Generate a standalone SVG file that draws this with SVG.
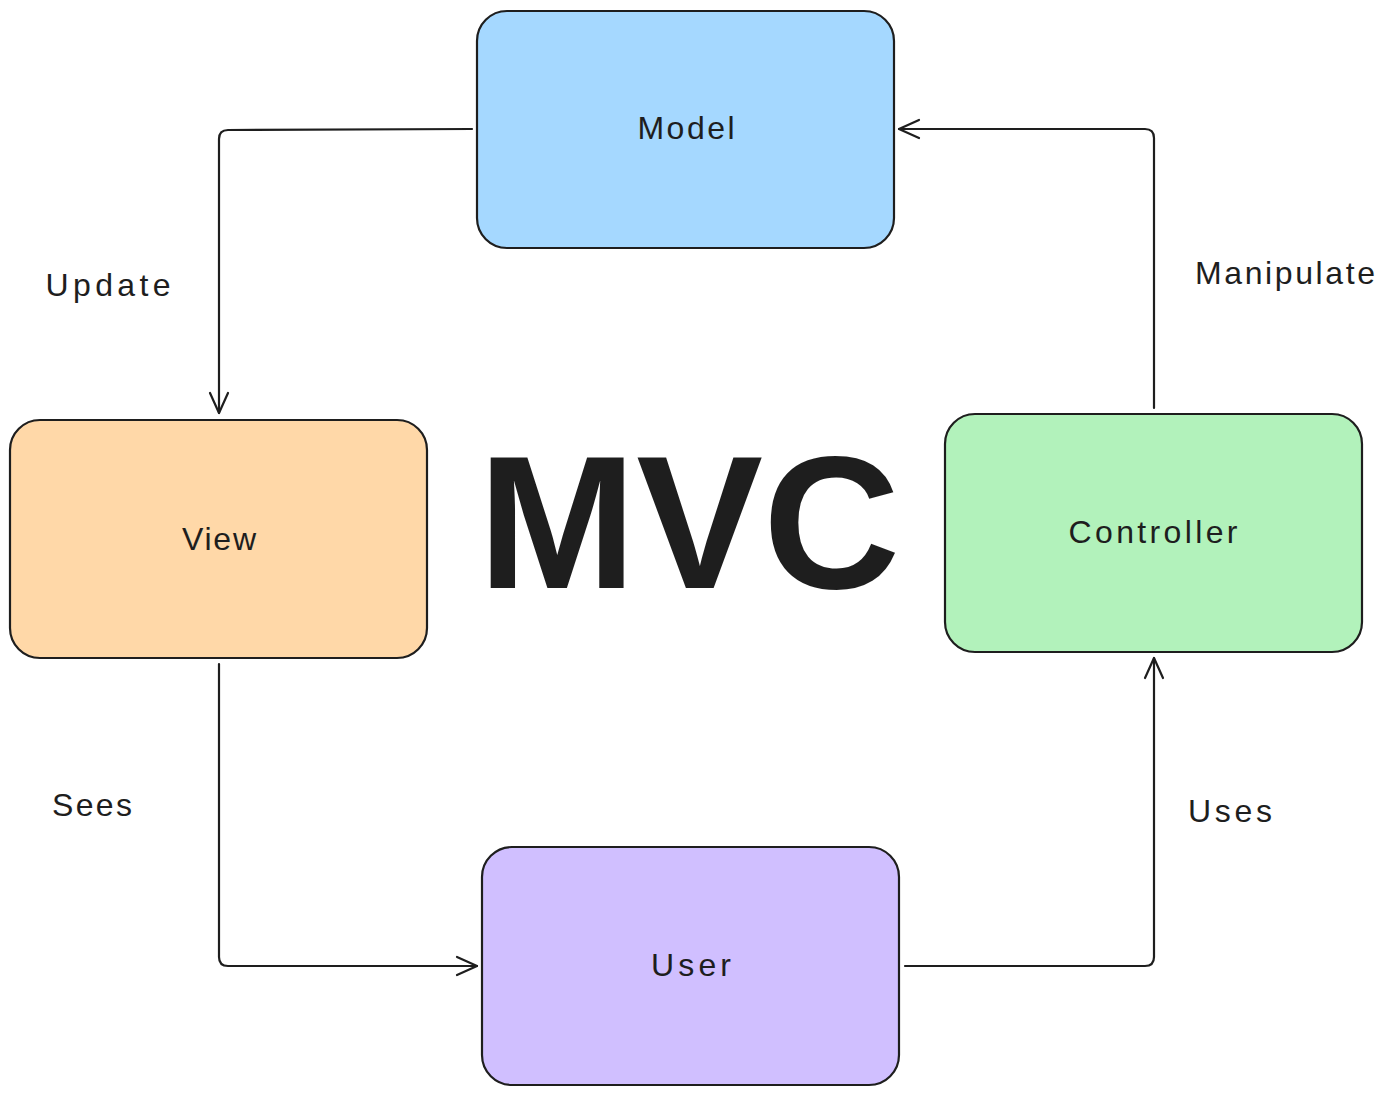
<svg xmlns="http://www.w3.org/2000/svg" width="1386" height="1095" viewBox="0 0 1386 1095">
<defs>
<style>
.box{stroke:#1e1e1e;stroke-width:2.2;}
.lbl{font-family:"Liberation Sans",Arial,sans-serif;font-size:32px;fill:#1e1e1e;text-anchor:middle;dominant-baseline:central;}
.edge{fill:none;stroke:#1e1e1e;stroke-width:2.2;stroke-linecap:round;stroke-linejoin:round;}
.title{font-family:"Liberation Sans",Arial,sans-serif;font-size:190px;font-weight:bold;fill:#1e1e1e;text-anchor:middle;}
</style>
<marker id="arr" viewBox="0 0 24 24" refX="22" refY="12" markerWidth="24" markerHeight="24" markerUnits="userSpaceOnUse" orient="auto">
<path d="M2,3 L22,12 L2,21" fill="none" stroke="#1e1e1e" stroke-width="2.2" stroke-linecap="round" stroke-linejoin="round"/>
</marker>
</defs>
<rect width="1386" height="1095" fill="#ffffff"/>
<g id="connectors">
<path class="edge" d="M472,129 L228,130 Q219,130 219,139 L219,413" marker-end="url(#arr)"/>
<path class="edge" d="M1154,408 L1154,138 Q1154,129 1145,129 L899,129" marker-end="url(#arr)"/>
<path class="edge" d="M219,664 L219,957 Q219,966 228,966 L477,966" marker-end="url(#arr)"/>
<path class="edge" d="M905,966 L1145,966 Q1154,966 1154,957 L1154,658" marker-end="url(#arr)"/>
</g>
<g id="model">
<rect class="box" x="477" y="11" width="417" height="237" rx="30" fill="#a5d8ff"/>
<text class="lbl" x="686" y="128" textLength="97" lengthAdjust="spacing">Model</text>
</g>
<g id="view">
<rect class="box" x="10" y="420" width="417" height="238" rx="30" fill="#ffd8a8"/>
<text class="lbl" x="219" y="539" textLength="74" lengthAdjust="spacing">View</text>
</g>
<g id="controller">
<rect class="box" x="945" y="414" width="417" height="238" rx="30" fill="#b2f2bb"/>
<text class="lbl" x="1153" y="532" textLength="169" lengthAdjust="spacing">Controller</text>
</g>
<g id="user">
<rect class="box" x="482" y="847" width="417" height="238" rx="30" fill="#d0bfff"/>
<text class="lbl" x="691" y="965" textLength="80" lengthAdjust="spacing">User</text>
</g>
<g id="labels">
<text class="lbl" x="108" y="285" textLength="125" lengthAdjust="spacing">Update</text>
<text class="lbl" x="1285" y="273" textLength="180" lengthAdjust="spacing">Manipulate</text>
<text class="lbl" x="92" y="805" textLength="80" lengthAdjust="spacing">Sees</text>
<text class="lbl" x="1230" y="811" textLength="84" lengthAdjust="spacing">Uses</text>
<text class="title" x="689" y="588">MVC</text>
</g>
</svg>
